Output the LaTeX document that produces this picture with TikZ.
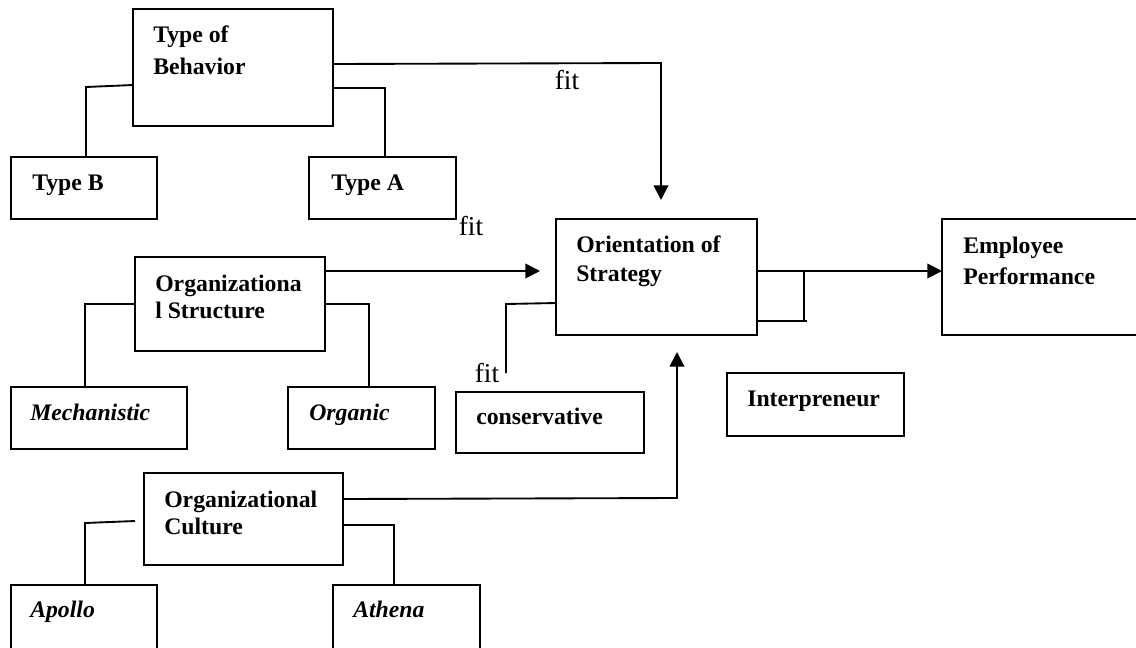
\documentclass[tikz,border=0pt]{standalone}
\usepackage{fontspec}
\setmainfont{Liberation Serif}
\usetikzlibrary{arrows.meta,fit}
\begin{document}
\begin{tikzpicture}[x=0.75pt,y=-0.75pt,
  box/.style={draw=black,line width=1.4pt,inner sep=0pt,outer sep=0pt},
  lbl/.style={anchor=base west,inner sep=0pt,font=\fontsize{17.8pt}{22pt}\selectfont\bfseries},
  ilbl/.style={anchor=base west,inner sep=0pt,font=\fontsize{17.8pt}{22pt}\selectfont\bfseries\itshape},
  fitlbl/.style={anchor=base,inner sep=0pt,font=\fontsize{20.5pt}{24pt}\selectfont},
  conn/.style={draw=black,line width=1.4pt},
  arr/.style={conn,-{Triangle[length=11pt,width=11pt]}}]
\clip (0,0) rectangle (1136,647);
\fill[white] (0,0) rectangle (1136,647);
% boxes
\node[box,fit={(133,9) (333,126)}] (tob) {};
\node[box,fit={(11,157) (157,219)}] (typeb) {};
\node[box,fit={(309,157) (456,219)}] (typea) {};
\node[box,fit={(135,257) (325,351)}] (ostruct) {};
\node[box,fit={(11,387) (187,449)}] (mech) {};
\node[box,fit={(288,387) (435,449)}] (organic) {};
\node[box,fit={(556,219) (757,335)}] (orient) {};
\node[box,fit={(942,219) (1160,335)}] (emp) {};
\node[box,fit={(456,392) (644,453)}] (cons) {};
\node[box,fit={(727,373) (904,436)}] (interp) {};
\node[box,fit={(144,473) (343,565)}] (culture) {};
\node[box,fit={(11,585) (157,680)}] (apollo) {};
\node[box,fit={(333,585) (480,680)}] (athena) {};
% texts
\node[lbl] (t1) at (153,42) {Type of};
\node[lbl] (t2) at (153,74) {Behavior};
\node[lbl] (t3) at (32,190) {Type B};
\node[lbl] (t4) at (331,190) {Type A};
\node[lbl] (t5) at (155,291) {Organizationa};
\node[lbl] (t6) at (155,318) {l Structure};
\node[ilbl] (t7) at (30,420) {Mechanistic};
\node[ilbl] (t8) at (309,420) {Organic};
\node[lbl] (t9) at (576,252) {Orientation of};
\node[lbl] (t10) at (576,281) {Strategy};
\node[lbl] (t11) at (963,253) {Employee};
\node[lbl] (t12) at (963,284) {Performance};
\node[lbl] (t13) at (476,424) {conservative};
\node[lbl] (t14) at (747,406) {Interpreneur};
\node[lbl] (t15) at (164,507) {Organizational};
\node[lbl] (t16) at (164,534) {Culture};
\node[ilbl] (t17) at (30,617) {Apollo};
\node[ilbl] (t18) at (353,617) {Athena};
% fit labels
\node[fitlbl] (f1) at (567,89) {fit};
\node[fitlbl] (f2) at (471,235) {fit};
\node[fitlbl] (f3) at (487,382) {fit};
% connectors
\coordinate (c1) at (661,63);
\draw[arr] (tob.east |- 0,64) -- (c1) -- (661,200);
\draw[conn] (tob.west |- 0,85) -- (86,87) -- (86,0 |- typeb.north);
\draw[conn] (tob.east |- 0,88) -- (385,88) -- (385,0 |- typea.north);
\draw[arr] (ostruct.east |- 0,271) -- (540,271);
\draw[conn] (ostruct.west |- 0,304) -- (85,304) -- (85,0 |- mech.north);
\draw[conn] (ostruct.east |- 0,304) -- (369,304) -- (369,0 |- organic.north);
\draw[conn] (orient.west |- 0,303) -- (506,304) -- (506,373);
\draw[arr] (culture.east |- 0,499) -- (677,498) -- (677,352);
\draw[conn] (135,521) -- (85,523) -- (85,0 |- apollo.north);
\draw[conn] (culture.east |- 0,525) -- (394,525) -- (394,0 |- athena.north);
\draw[arr] (orient.east |- 0,271) -- (emp.west |- 0,271);
\draw[conn] (orient.east |- 0,321) -- (807,321);
\draw[conn] (804,271) -- (804,321);
\end{tikzpicture}
\end{document}
